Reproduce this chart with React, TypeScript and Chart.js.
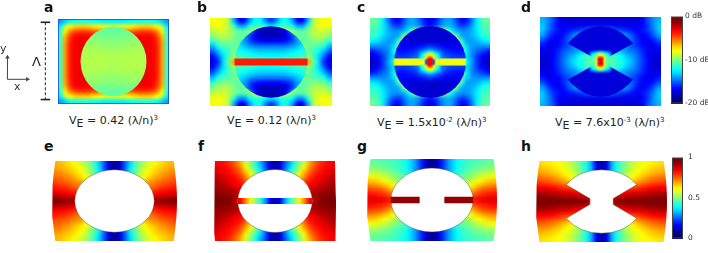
import React, { useEffect, useRef } from "react";
import { Chart, registerables } from "chart.js";
Chart.register(...registerables);

// ---------- field values, top-left quadrant of each panel, on the 0-100 colour scale ----------
const fieldA = [
  [28,33,37,39,40,40,39,38,37,36,36,36],
  [36,55,62,66,67,67,66,64,62,60,59,59],
  [42,64,75,80,82,82,81,79,77,75,74,74],
  [44,70,82,87,88,88,88,87,86,85,84,84],
  [44,72,84,88,89,89,89,89,89,88,88,88],
  [44,73,85,88,89,90,90,90,90,90,90,90],
  [44,73,85,88,89,90,90,90,90,90,90,90],
  [44,73,85,88,89,90,90,90,90,90,90,90],
  [44,73,85,88,89,90,90,90,90,90,90,90],
];
const insideA = [
  [46,46,46,46,46,46,46,46,46,46,46,46],
  [47,47,47,47,47,47,47,47,47,47,47,47],
  [49,49,49,49,48,48,48,48,48,48,47,47],
  [51,51,51,51,50,50,50,50,49,49,49,49],
  [53,53,53,53,53,52,52,52,52,51,51,51],
  [54,54,54,54,54,54,53,53,53,52,52,52],
  [55,55,55,55,55,55,54,54,54,54,54,54],
  [55,55,55,55,55,55,55,55,55,55,54,54],
  [55,55,55,55,55,55,55,55,55,55,55,55],
];
const fieldB = [
  [62,62,60,55,30,12,12,28,38,38,25,18],
  [60,62,60,55,42,28,28,38,42,42,38,34],
  [55,58,58,56,50,46,46,50,58,62,62,62],
  [50,54,55,54,50,46,48,58,62,62,62,62],
  [42,48,50,50,48,46,56,63,63,63,63,63],
  [30,40,44,46,47,52,62,62,62,62,62,62],
  [20,30,38,44,48,58,62,62,62,62,62,62],
  [12,22,34,44,54,62,62,62,62,62,62,62],
  [10,16,34,48,72,85,85,62,62,62,62,62],
];
const insideB = [
  [30,30,30,30,30,30,30,30,14,8,6,6],
  [30,30,30,30,30,30,30,30,14,8,6,6],
  [30,30,30,30,30,30,30,30,14,7,5,5],
  [30,30,30,30,30,30,30,18,10,7,6,6],
  [32,32,32,32,32,32,28,20,15,13,12,12],
  [36,36,36,36,36,36,32,28,26,25,25,25],
  [40,40,40,40,40,40,38,36,34,33,33,33],
  [44,44,44,44,44,44,42,41,40,39,38,38],
  [48,48,48,48,48,48,46,45,44,44,44,44],
];
const fieldC = [
  [48,45,36,24,14,12,20,28,28,22,14,10],
  [46,44,36,28,20,18,24,30,30,26,18,14],
  [44,42,36,30,27,27,30,38,55,56,56,56],
  [42,40,34,30,28,30,50,55,56,56,56,56],
  [36,34,30,28,29,44,54,56,56,56,56,56],
  [26,26,26,28,34,50,52,52,52,52,52,52],
  [14,18,22,26,36,50,50,50,50,50,50,50],
  [9,12,18,26,34,42,42,42,42,42,42,42],
  [7,10,18,28,38,44,44,44,44,44,44,44],
];
const insideC = [
  [12,12,12,12,12,12,12,10,9,8,8,8],
  [12,12,12,12,12,12,12,10,9,8,8,8],
  [12,12,12,12,12,12,12,10,9,8,8,8],
  [12,12,12,12,12,11,10,9,8,8,8,8],
  [12,12,12,12,12,11,10,9,9,8,8,8],
  [14,14,14,14,14,13,12,11,12,14,16,18],
  [14,14,14,14,14,14,14,15,17,22,28,34],
  [18,18,18,18,18,18,18,19,22,26,34,44],
  [22,22,22,22,22,22,22,22,24,28,36,50],
];
const coreC = [
  [22,24,25,27,30,34,36],
  [24,27,30,33,38,45,47],
  [26,30,34,40,48,58,62],
  [28,34,38,46,58,66,70],
  [34,38,42,50,62,80,85],
  [62,62,62,62,25,88,90],
  [62,62,62,60,20,85,90],
];
const fieldD = [
  [30,26,20,12,10,9,9,9,9,9,9,9],
  [32,26,18,12,10,10,10,10,10,10,10,10],
  [32,24,18,14,12,14,16,18,20,24,28,28],
  [28,20,14,12,14,20,26,30,30,30,30,30],
  [20,14,12,12,16,22,24,32,32,32,32,32],
  [14,11,11,13,17,20,26,30,32,32,32,32],
  [11,10,12,16,21,24,26,30,34,38,40,42],
  [9,9,12,17,23,28,32,38,42,44,46,48],
  [8,9,13,18,24,30,35,39,43,46,48,48],
];
const coreD = [
  [14,16,18,22,26,30,32],
  [20,20,24,28,32,38,40],
  [28,30,32,36,42,50,54],
  [36,38,40,44,52,62,66],
  [42,42,44,48,56,80,85],
  [44,44,46,50,56,88,90],
  [46,46,48,50,54,82,90],
];
const fieldE = [
  [70,69,67,65,62,59,55,50,42,32,20,8,2],
  [72,71,69,67,65,62,58,52,44,34,20,8,2],
  [75,74,72,70,67,64,60,54,46,36,24,12,6],
  [78,77,75,73,70,67,63,60,52,40,30,20,15],
  [81,80,79,77,75,73,70,66,60,50,40,30,20],
  [85,84,83,81,78,76,72,68,62,55,45,35,25],
  [89,88,87,86,84,82,80,75,70,60,50,40,30],
  [95,94,93,92,91,90,88,80,70,60,50,40,30],
  [100,100,99,98,97,96,95,85,70,60,50,40,30],
];
const fieldF = [
  [88,87,85,82,77,70,58,50,40,30,20,8,3],
  [90,88,87,84,80,74,64,54,44,34,22,9,3],
  [92,90,88,86,83,78,70,60,50,38,26,14,8],
  [94,92,90,88,86,82,75,66,55,42,30,20,15],
  [96,94,92,90,88,86,80,72,60,50,40,30,20],
  [97,96,95,93,90,88,84,76,66,56,46,36,26],
  [98,98,97,96,95,92,88,80,70,60,50,40,30],
  [100,100,99,98,96,94,90,82,72,60,50,40,30],
  [100,100,100,99,93,88,84,80,70,60,50,40,30],
];
const fieldG = [
  [47,47,46,45,44,43,41,38,33,26,16,6,2],
  [50,49,48,47,46,44,42,39,33,26,16,6,2],
  [55,54,53,51,49,46,44,40,34,27,18,10,4],
  [61,60,58,56,53,50,47,43,38,30,22,14,10],
  [68,67,65,62,58,54,50,46,40,34,26,20,16],
  [75,74,72,69,65,60,56,50,44,36,30,24,20],
  [82,81,80,77,72,68,62,56,48,40,34,28,24],
  [87,86,85,83,80,76,70,60,50,42,36,30,26],
  [90,90,90,88,86,82,74,64,52,44,38,32,28],
];
const fieldH = [
  [66,65,64,63,62,60,57,52,47,40,30,12,3],
  [69,68,67,65,63,60,58,53,48,40,30,12,3],
  [72,71,70,68,66,63,60,56,50,42,32,16,8],
  [77,76,75,73,70,67,63,58,52,44,36,24,16],
  [82,81,80,78,76,73,70,66,60,50,40,30,24],
  [88,88,87,86,84,82,80,78,75,65,55,45,35],
  [94,94,93,92,91,90,90,88,86,80,70,60,50],
  [99,99,98,98,97,96,96,95,94,92,85,75,65],
  [100,100,100,100,100,100,100,100,100,100,98,90,80],
];
const bridgeF = [[88,76,64,52,42,28,12,5]];
const barLevels = { b: 85, c: 61, stub: 98, wedge: 9 };
const scaleStops = [[100],[87.5],[75],[62.5],[50],[37.5],[25],[12.5],[0]];

// ---------- outlines ----------
const unitArcX = [0,.17,.34,.5,.64,.77,.87,.94,.985,1];
const unitArcY = [1,.985,.94,.866,.77,.64,.5,.34,.17,0];
const bowtieX = [0,-10,-20,-28,-35,-11.7,-11.7];
const bowtieY = [-31.7,-31,-28,-23.5,-16.7,-3,0];
const wedgeX = [0,-32.7,-28,-22,-15,-8,0];
const wedgeY = [0,-18,-23,-28,-32,-34.5,-35.5];
const sideY = [-1,-.8,-.6,-.4,-.2,0,.2,.4,.6,.8,1];
const sideInset = [1,.68,.4,.18,.04,0,.04,.18,.4,.68,1];

// ---------- helpers ----------
const JET: [number, number[]][] = [
  [0,[0,0,128]],[12.5,[0,0,255]],[37.5,[0,255,255]],[62.5,[255,255,0]],[87.5,[255,0,0]],[100,[128,0,0]],
];
function jet(v: number) {
  for (let i = 1; i < JET.length; i++) {
    if (v <= JET[i][0]) {
      const [a, ca] = JET[i - 1], [b, cb] = JET[i];
      const t = (v - a) / (b - a);
      return ca.map((c, k) => Math.round(c + (cb[k] - c) * t));
    }
  }
  return JET[JET.length - 1][1];
}
const jetCss = (v: number) => `rgb(${jet(v).join(",")})`;

let orderCounter = 1000;
function raster(rows: number[][], w: number, h: number, clip?: any, mirror = true, feather = false) {
  const nr = rows.length, nc = rows[0].length;
  const NX = mirror ? 2 * nc - 1 : nc, NY = mirror ? 2 * nr - 1 : nr;
  const data: any[] = [];
  for (let j = 0; j < NY; j++) for (let i = 0; i < NX; i++) {
    const r = j < nr ? j : 2 * nr - 2 - j, c = i < nc ? i : 2 * nc - 2 - i;
    data.push({ x: -w / 2 + ((i + .5) * w) / NX, y: -h / 2 + ((j + .5) * h) / NY, v: rows[r][c], ring: Math.min(r, c) });
  }
  return { data, order: orderCounter--, pointRadius: 0,
    raster: { nx: NX, ny: NY, x0: -w / 2, x1: w / 2, y0: -h / 2, y1: h / 2, clip, feather } };
}
function poly(pts: { x: number; y: number }[], fillColor: string | false, line?: string, lw = 0) {
  return { data: pts, showLine: true, order: orderCounter--, pointRadius: 0, tension: 0,
    fill: fillColor ? "shape" : false, backgroundColor: fillColor || "transparent",
    borderColor: line || "transparent", borderWidth: lw };
}
function rectPts(l: number, r: number, t: number, b: number) {
  return [{ x: l, y: t }, { x: r, y: t }, { x: r, y: b }, { x: l, y: b }, { x: l, y: t }];
}
function ellipsePts(rx: number, ry: number) {
  const q = unitArcX.map((u, i) => ({ x: u * rx, y: -unitArcY[i] * ry }));
  const a = [...q];
  for (let i = q.length - 2; i >= 0; i--) a.push({ x: q[i].x, y: -q[i].y });
  for (let i = 1; i < q.length; i++) a.push({ x: -q[i].x, y: -q[i].y });
  for (let i = q.length - 2; i >= 0; i--) a.push({ x: -q[i].x, y: q[i].y });
  return a;
}
function bowtiePts() {
  const q = bowtieX.map((x, i) => ({ x, y: bowtieY[i] }));
  const a = [...q];
  for (let i = q.length - 2; i >= 0; i--) a.push({ x: q[i].x, y: -q[i].y });
  for (let i = 1; i < q.length; i++) a.push({ x: -q[i].x, y: -q[i].y });
  for (let i = q.length - 2; i >= 0; i--) a.push({ x: -q[i].x, y: q[i].y });
  return a;
}
function wedgePts(s: number) {
  const q = wedgeX.map((x, i) => ({ x, y: wedgeY[i] * s }));
  const a = [...q];
  for (let i = q.length - 2; i >= 0; i--) a.push({ x: -q[i].x, y: q[i].y });
  return a;
}
function sideMask(w: number, h: number, inset: number, dir: number) {
  const pts = [{ x: (dir * w) / 2 + dir, y: -h / 2 - 1 }];
  sideY.forEach((f, i) => pts.push({ x: dir * (w / 2 - inset * sideInset[i]), y: (f * h) / 2 }));
  pts.push({ x: (dir * w) / 2 + dir, y: h / 2 + 1 });
  pts.push(pts[0]);
  return pts;
}

const fieldPlugin = {
  id: "fieldRaster",
  beforeDatasetDraw(chart: any, args: any) {
    const ds = chart.data.datasets[args.index];
    const g = ds.raster;
    if (!g) return;
    const { ctx, scales: { x, y } } = chart;
    const off = document.createElement("canvas");
    off.width = g.nx; off.height = g.ny;
    const o = off.getContext("2d")!;
    const img = o.createImageData(g.nx, g.ny);
    ds.data.forEach((p: any, k: number) => {
      const alpha = !g.feather ? 255 : p.ring === 0 ? 0 : p.ring === 1 ? 170 : 255;
      img.data.set([...jet(p.v), alpha], k * 4);
    });
    o.putImageData(img, 0, 0);
    const l = x.getPixelForValue(g.x0), r = x.getPixelForValue(g.x1);
    const t = y.getPixelForValue(g.y0), b = y.getPixelForValue(g.y1);
    ctx.save();
    if (g.clip) {
      ctx.beginPath();
      ctx.ellipse(x.getPixelForValue(g.clip.cx), y.getPixelForValue(g.clip.cy),
        Math.abs(x.getPixelForValue(g.clip.rx) - x.getPixelForValue(0)),
        Math.abs(y.getPixelForValue(g.clip.ry) - y.getPixelForValue(0)), 0, 0, Math.PI * 2);
      ctx.clip();
    }
    ctx.imageSmoothingEnabled = true;
    ctx.imageSmoothingQuality = "high";
    ctx.drawImage(off, l, t, r - l, b - t);
    ctx.restore();
    return false;
  },
};

function panelConfig(w: number, h: number, datasets: any[]) {
  return {
    type: "scatter",
    data: { datasets },
    plugins: [fieldPlugin],
    options: {
      animation: false, responsive: false, events: [],
      layout: { padding: 0 },
      plugins: { legend: { display: false }, tooltip: { enabled: false } },
      scales: {
        x: { type: "linear", display: false, min: -w / 2, max: w / 2 },
        y: { type: "linear", display: false, min: -h / 2, max: h / 2, reverse: true },
      },
    },
  };
}

function colorbarConfig(min: number, max: number, step: number, unit: string, pad: number) {
  const w = 2, h = max - min;
  const ds = raster(scaleStops, w, h, undefined, false);
  ds.raster.y0 = max; ds.raster.y1 = min;
  const border = poly(rectPts(-1, 1, max, min), false, "#444444", 2);
  return {
    type: "scatter",
    data: { datasets: [ds, border] },
    plugins: [fieldPlugin],
    options: {
      animation: false, responsive: false, events: [],
      layout: { padding: { top: 6, bottom: 6, left: 1, right: 0 } },
      plugins: { legend: { display: false }, tooltip: { enabled: false } },
      scales: {
        x: { type: "linear", display: false, min: -1, max: 1 },
        y: {
          type: "linear", position: "right", min, max,
          grid: { display: false, drawTicks: false }, border: { display: false },
          afterFit: (s: any) => { s.width = 25; },
          ticks: { stepSize: step, padding: pad, color: "#333333", font: { family: "DejaVu Sans", size: 7.5 },
            callback: (v: number) => `${v}${unit}` },
        },
      },
    },
  };
}

const dimensionLine = [{ x: 47.7, y: 19 }, { x: 47.7, y: 103 }];
const dimensionTop = [{ x: 42.3, y: 19 }, { x: 53.3, y: 19 }];
const dimensionBottom = [{ x: 42.3, y: 103 }, { x: 53.3, y: 103 }];
const axisY = [{ x: 4, y: 81 }, { x: 4, y: 57 }];
const axisX = [{ x: 4, y: 81 }, { x: 27, y: 81 }];

function annotationConfig() {
  const line = (data: any[], width: number, dash: number[] = []) => ({
    data, showLine: true, pointRadius: 0, borderColor: "#222222", borderWidth: width, borderDash: dash,
  });
  const arrow = (p: any, rot: number) => ({
    data: [p], pointStyle: "triangle", pointRadius: 2.6, rotation: rot, backgroundColor: "#444444", borderWidth: 0,
  });
  return {
    type: "scatter",
    data: { datasets: [
      line(dimensionLine, 1, [3, 2]), line(dimensionTop, 1.6), line(dimensionBottom, 1.6),
      { ...line(axisY, 1), borderColor: "#444444" }, { ...line(axisX, 1), borderColor: "#444444" },
      arrow(axisY[1], 0), arrow(axisX[1], 90),
    ] },
    options: {
      animation: false, responsive: false, events: [],
      layout: { padding: 0 },
      plugins: { legend: { display: false }, tooltip: { enabled: false } },
      scales: {
        x: { type: "linear", display: false, min: 0, max: 60 },
        y: { type: "linear", display: false, min: 10, max: 110, reverse: true },
      },
    },
  };
}

function ChartCanvas({ left, top, w, h, build, blur = 0.45 }: any) {
  const ref = useRef<HTMLCanvasElement>(null);
  useEffect(() => {
    const c = new Chart(ref.current!, build());
    return () => c.destroy();
  }, []);
  return <canvas ref={ref} width={w} height={h}
    style={{ position: "absolute", left, top, width: w, height: h, filter: blur ? `blur(${blur}px)` : undefined }} />;
}

// ---------- panel builders ----------
const EDGE = "rgba(70,70,50,0.55)";
const buildA = () => {
  const [w, h] = [111, 85];
  return panelConfig(w, h, [
    raster(fieldA, w, h),
    raster(insideA, w, h, { cx: 0, cy: 0, rx: 33, ry: 34.7 }),
    poly(rectPts(-w / 2 + .5, w / 2 - .5, -h / 2 + .5, h / 2 - .5), false, "rgba(30,90,220,0.9)", 1),
  ]);
};
const buildB = () => {
  const [w, h] = [122, 88];
  return panelConfig(w, h, [
    raster(fieldB, w, h),
    raster(insideB, w, h, { cx: 0, cy: 0, rx: 36.5, ry: 35.7 }),
    poly(rectPts(-36.5, 36.5, -3.5, 3.5), jetCss(barLevels.b)),
  ]);
};
const buildC = () => {
  const [w, h] = [120, 88];
  return panelConfig(w, h, [
    raster(fieldC, w, h),
    raster(insideC, w, h, { cx: 0, cy: 0, rx: 36, ry: 36 }),
    poly(rectPts(-36, 36, -3.5, 3.5), jetCss(barLevels.c)),
    raster(coreC, 26, 26, undefined, true, true),
  ]);
};
const buildD = () => {
  const [w, h] = [121, 89];
  return panelConfig(w, h, [
    raster(fieldD, w, h),
    poly(wedgePts(1), jetCss(barLevels.wedge)),
    poly(wedgePts(-1), jetCss(barLevels.wedge)),
    raster(coreD, 26, 26, undefined, true, true),
  ]);
};
const deformed = (w: number, h: number, inset: number, field: number[][], hole: any[], extra: () => any[] = () => []) =>
  panelConfig(w, h, [
    raster(field, w, h),
    poly(hole, "#ffffff", EDGE, 0.8),
    poly(sideMask(w, h, inset, -1), "#ffffff"),
    poly(sideMask(w, h, inset, 1), "#ffffff"),
    ...extra(),
  ]);
const buildE = () => deformed(125, 80, 3.3, fieldE, ellipsePts(39.8, 31.3));
const buildF = () => deformed(122, 80, 1, fieldF, ellipsePts(37.3, 31.5), () => [raster(bridgeF, 74.6, 6)]);
const buildG = () => deformed(129.4, 82, 3.4, fieldG, ellipsePts(41, 32), () => [
  poly(rectPts(-41, -12.3, -3.3, 3.3), jetCss(barLevels.stub)),
  poly(rectPts(12.3, 41, -3.3, 3.3), jetCss(barLevels.stub)),
]);
const buildH = () => deformed(130.4, 81, 3.4, fieldH, bowtiePts());

const panels = [
  { left: 57.5, top: 19, w: 111, h: 85, build: buildA },
  { left: 209.5, top: 17.5, w: 122, h: 88, build: buildB },
  { left: 370, top: 17.5, w: 120, h: 88, build: buildC },
  { left: 539.5, top: 17, w: 121, h: 89, build: buildD },
  { left: 52, top: 160.7, w: 125, h: 80, build: buildE },
  { left: 213.5, top: 160.7, w: 122, h: 80, build: buildF },
  { left: 367, top: 159, w: 130, h: 82, build: buildG },
  { left: 536, top: 161, w: 131, h: 81, build: buildH },
];
const panelLetters = [
  ["a", 44, -1], ["b", 197, -1], ["c", 357, -1], ["d", 521, -1],
  ["e", 44, 138], ["f", 198, 138], ["g", 357, 138], ["h", 521, 138],
];
const SANS = "'DejaVu Sans', sans-serif";

function Caption({ left, top, value, exp }: any) {
  return (
    <div style={{ position: "absolute", left, top, font: `11px ${SANS}`, color: "#222", whiteSpace: "nowrap" }}>
      V<span style={{ position: "relative", top: 3 }}>E</span> = {value}
      {exp ? <span style={{ position: "relative", top: -4, fontSize: 7 }}>{exp}</span> : null} (λ/n)
      <span style={{ position: "relative", top: -4, fontSize: 7 }}>3</span>
    </div>
  );
}

export default function App() {
  return (
    <div style={{ position: "absolute", left: 0, top: 0, width: 708, height: 253, overflow: "hidden", background: "#fff" }}>
      {panels.map((p, i) => <ChartCanvas key={i} {...p} />)}
      <ChartCanvas left={0} top={10} w={60} h={100} build={annotationConfig} />
      <ChartCanvas left={670} top={10} w={38} h={100} blur={0}
        build={() => colorbarConfig(-20, 0, 10, " dB", 2)} />
      <ChartCanvas left={671} top={148} w={37} h={100} blur={0}
        build={() => colorbarConfig(0, 1, 0.5, "", 5)} />
      {panelLetters.map(([t, l, y]: any) => (
        <div key={t} style={{ position: "absolute", left: l, top: y, font: `bold 14px ${SANS}`, color: "#111" }}>{t}</div>
      ))}
      <div style={{ position: "absolute", left: 0, top: 42, font: `11px ${SANS}`, color: "#333" }}>y</div>
      <div style={{ position: "absolute", left: 14, top: 80, font: `11px ${SANS}`, color: "#333" }}>x</div>
      <div style={{ position: "absolute", left: 32, top: 54, font: `13px ${SANS}`, color: "#222" }}>Λ</div>
      <Caption left={69} top={114} value="0.42" />
      <Caption left={227} top={114} value="0.12" />
      <Caption left={377} top={116} value="1.5x10" exp="-2" />
      <Caption left={555} top={116} value="7.6x10" exp="-3" />
    </div>
  );
}
